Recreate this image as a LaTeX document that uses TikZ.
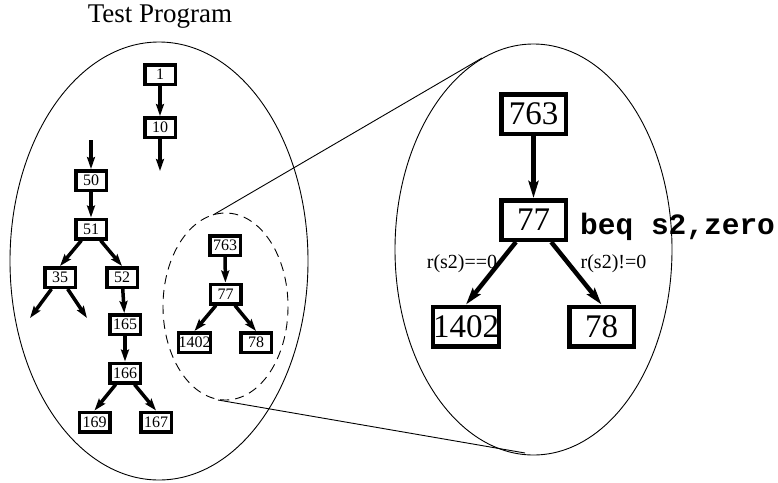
\documentclass[tikz,border=0pt]{standalone}
\usepackage{fontspec}
\setmainfont{Liberation Serif}
\newfontfamily\codefont{Liberation Mono}
\usetikzlibrary{arrows.meta}
\begin{document}
\begin{tikzpicture}[x=1pt,y=-1pt,
  sbox/.style={draw,line width=3.5pt,minimum width=30.5pt,minimum height=19.5pt,inner sep=0pt,font=\fontsize{16}{16}\selectfont},
  bbox/.style={draw,line width=4.5pt,minimum width=64.5pt,minimum height=39.5pt,inner sep=0pt,font=\fontsize{33}{33}\selectfont},
  sarr/.style={line width=3.5pt,-{Stealth[length=12pt,width=8pt,inset=2pt]}},
  barr/.style={line width=4.5pt,-{Stealth[length=17pt,width=10pt,inset=3pt]}},
  thin line/.style={line width=0.9pt},
  lbl/.style={inner sep=0pt,font=\fontsize{20}{20}\selectfont}]
\useasboundingbox (0,0) rectangle (778,482);
% title
\node[anchor=base,inner sep=0pt,font=\fontsize{27}{27}\selectfont] (title) at (160,22) {Test Program};
% ellipses
\draw[thin line] (159,261) ellipse [x radius=149, y radius=219];
\draw[thin line] (533.5,249.5) ellipse [x radius=138.5, y radius=205.5];
\draw[thin line,dash pattern=on 9pt off 6pt] (225.5,306.5) ellipse [x radius=62.5, y radius=93.5];
% zoom lines
\coordinate (zt1) at (213,215);
\coordinate (zt2) at (482,58);
\coordinate (zb1) at (218,400);
\coordinate (zb2) at (525,453);
\draw[thin line] (zt1) -- (zt2);
\draw[thin line] (zb1) -- (zb2);
% left small graph
\node[sbox] (n1) at (160,74.5) {1};
\node[sbox] (n10) at (160,127.5) {10};
\coordinate (n10out) at (160,171);
\coordinate (n50in) at (91,140);
\node[sbox] (n50) at (91,180.5) {50};
\node[sbox] (n51) at (91,229) {51};
\node[sbox] (n35) at (60,277.5) {35};
\node[sbox] (n52) at (122,277.5) {52};
\coordinate (n35a) at (30,318);
\coordinate (n35b) at (87,318);
\node[sbox] (n165) at (125,324.5) {165};
\node[sbox] (n166) at (125,373) {166};
\node[sbox] (n169) at (94.5,422) {169};
\node[sbox] (n167) at (156,422) {167};
\node[sbox] (s763) at (225,245.5) {763};
\node[sbox] (s77) at (225.5,294) {77};
\node[sbox] (s1402) at (194.5,342.5) {1402};
\node[sbox] (s78) at (256,342.5) {78};
\draw[sarr] (n1) -- (n10);
\draw[sarr] (n10) -- (n10out);
\draw[sarr] (n50in) -- (n50);
\draw[sarr] (n50) -- (n51);
\draw[sarr] (n51) -- (n35.north);
\draw[sarr] (n51) -- (n52.north);
\draw[sarr] (n35) -- (n35a);
\draw[sarr] (n35) -- (n35b);
\draw[sarr] (n52) -- (n165);
\draw[sarr] (n165) -- (n166);
\draw[sarr] (n166) -- (n169.north);
\draw[sarr] (n166) -- (n167.north);
\draw[sarr] (s763) -- (s77);
\draw[sarr] (s77) -- (s1402.north);
\draw[sarr] (s77) -- (s78.north);
% right big graph
\node[bbox] (b763) at (533.5,114) {763};
\node[bbox] (b77) at (533.5,220) {77};
\node[bbox] (b1402) at (466,326.5) {1402};
\node[bbox] (b78) at (601.5,326.5) {78};
\draw[barr] (b763) -- (b77);
\draw[barr] (b77) -- (b1402.north);
\draw[barr] (b77) -- (b78.north);
\node[lbl] (l1) at (462,264) {r(s2)==0};
\node[lbl] (l2) at (613.5,264) {r(s2)!=0};
\node[anchor=base west,inner sep=0pt,font=\codefont\bfseries\fontsize{29.5}{29.5}\selectfont] (code) at (580,234) {beq s2,zero};
\end{tikzpicture}
\end{document}
